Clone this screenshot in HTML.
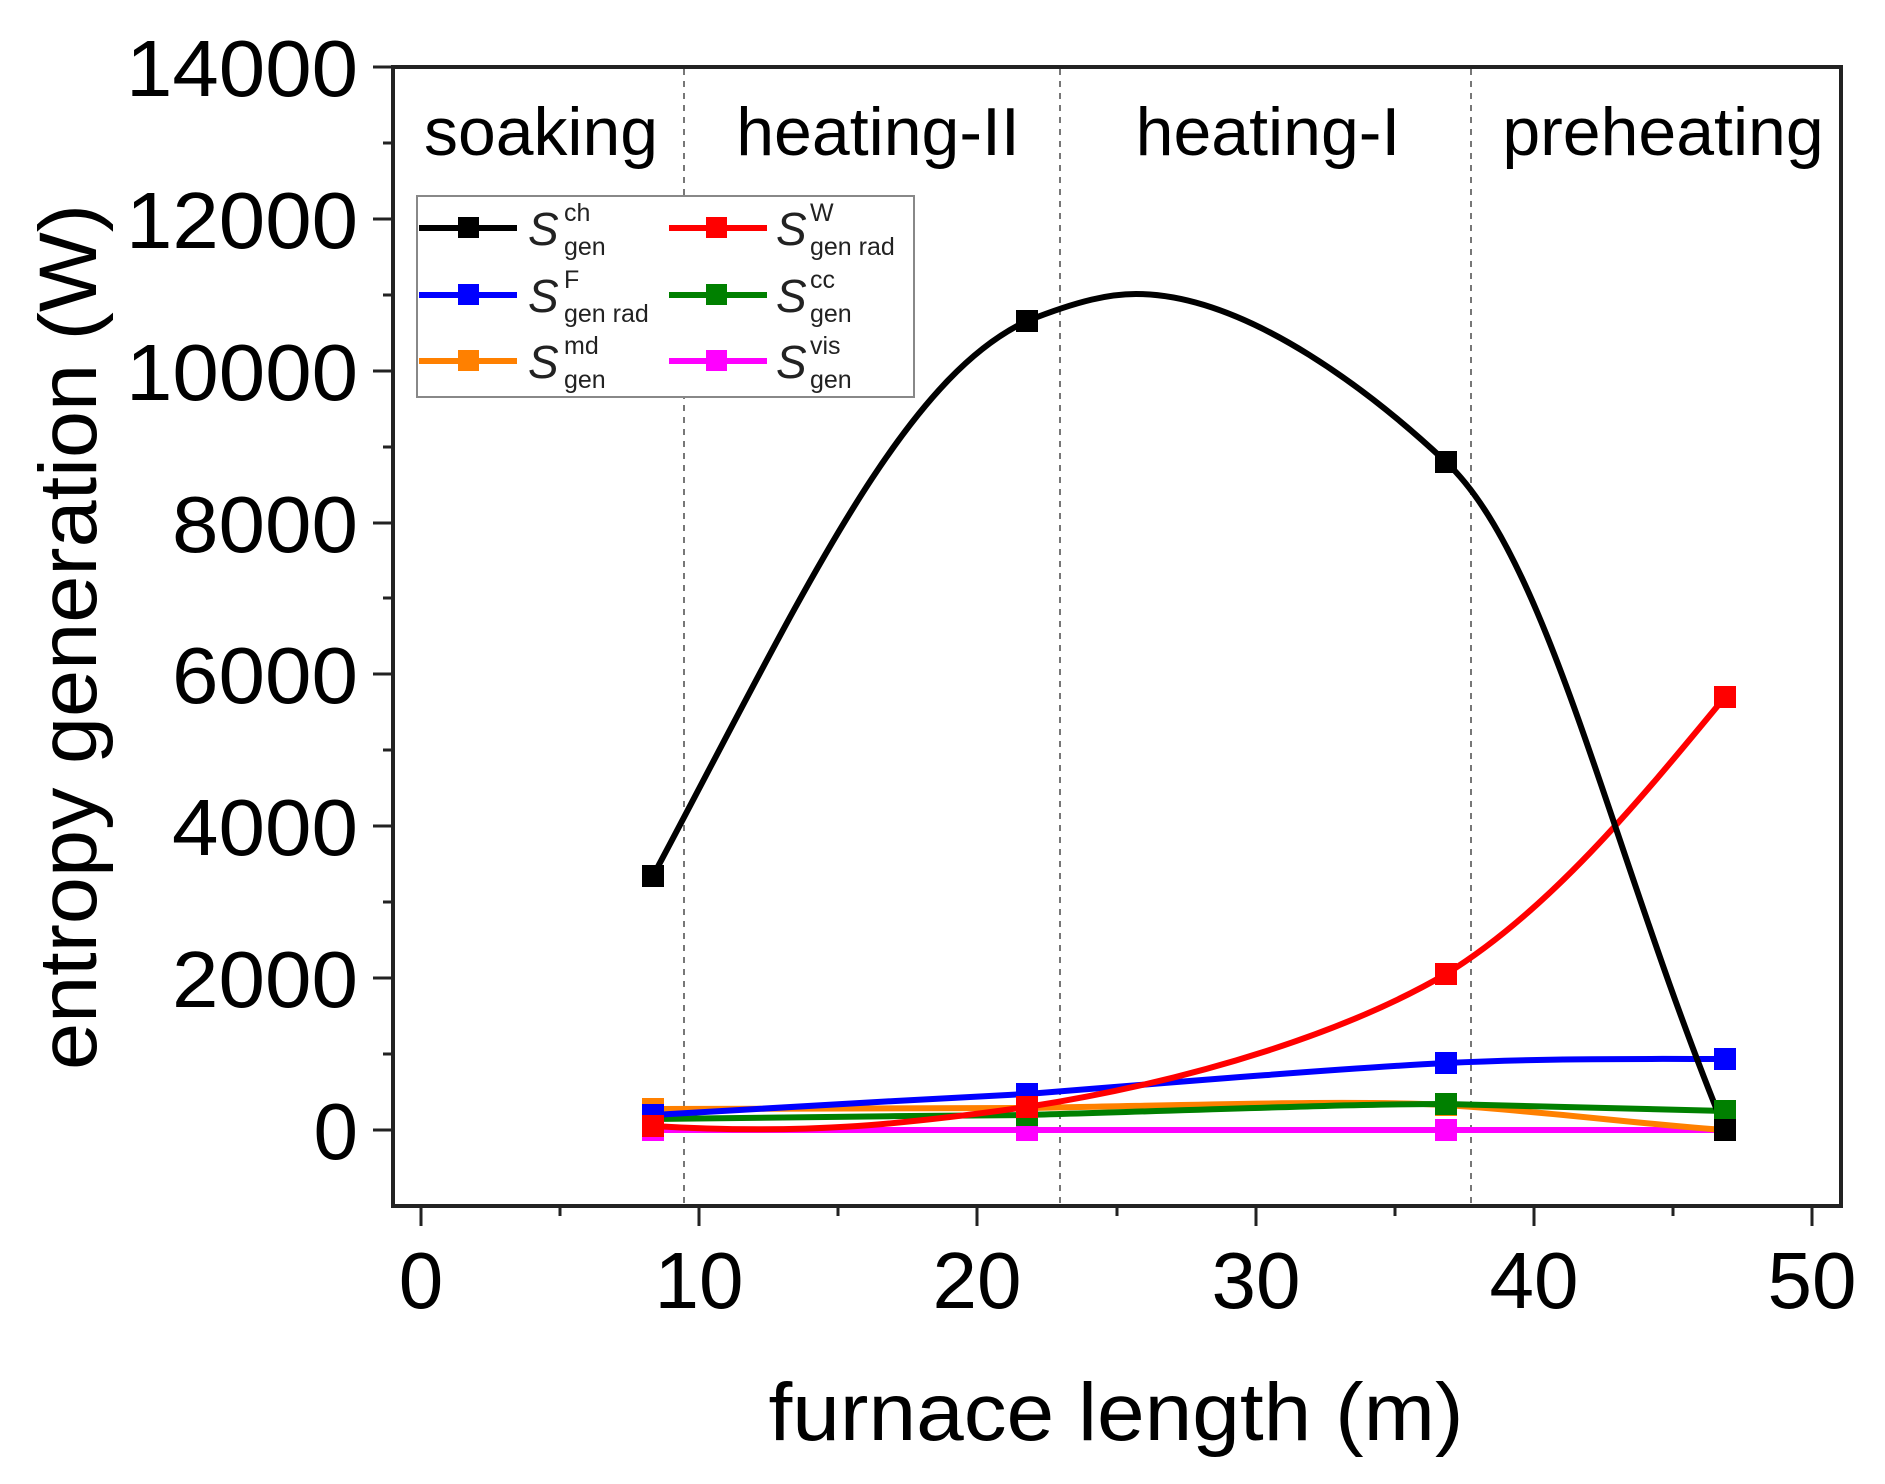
<!DOCTYPE html>
<html><head><meta charset="utf-8"><style>html,body{margin:0;padding:0;background:#fff}svg{display:block}</style></head>
<body>
<svg width="1885" height="1484" viewBox="0 0 1885 1484" xmlns="http://www.w3.org/2000/svg" font-family="Liberation Sans, Arial, sans-serif">
<rect width="1885" height="1484" fill="#fff"/>
<g stroke="#777" stroke-width="2" stroke-dasharray="6,6">
<line x1="684" y1="69" x2="684" y2="1204"/>
<line x1="1060" y1="69" x2="1060" y2="1204"/>
<line x1="1471" y1="69" x2="1471" y2="1204"/>
</g>
<g font-size="68" fill="#000" text-anchor="middle">
<text x="541" y="155" textLength="234" lengthAdjust="spacingAndGlyphs">soaking</text>
<text x="878" y="155">heating-II</text>
<text x="1268" y="155">heating-I</text>
<text x="1663" y="155">preheating</text>
</g>
<g fill="none" stroke-width="6" stroke-linejoin="round">
<path stroke="#ff00ff" d="M653,1130 L1725,1130"/>
<path stroke="#ff8000" d="M653,1109 L1027,1108 C1200,1105 1350,1100 1446,1105 C1550,1112 1650,1125 1725,1130"/>
<path stroke="#008000" d="M653,1119 C800,1117 900,1116 1027,1115 C1200,1110 1350,1104 1446,1104 C1550,1106 1650,1110 1725,1111"/>
<path stroke="#0000ff" d="M653,1115 C800,1107 900,1100 1027,1094 C1200,1080 1350,1068 1446,1063 C1550,1058 1650,1059 1725,1059"/>
<path stroke="#ff0000" d="M653,1126 C800,1135 900,1125 1027,1107 C1200,1080 1350,1030 1446,974 C1550,910 1640,800 1725,697"/>
<path stroke="#000" d="M653,876 C800,600 900,380 1027,321 C1080,300 1110,294 1136,294 C1250,294 1380,400 1446,462 C1550,560 1610,850 1725,1130"/>
</g>
<g>
<g fill="#ff00ff"><rect x="642" y="1119" width="22" height="22"/><rect x="1016" y="1119" width="22" height="22"/><rect x="1435" y="1119" width="22" height="22"/></g>
<g fill="#ff8000"><rect x="642" y="1098" width="22" height="22"/><rect x="1016" y="1097" width="22" height="22"/><rect x="1435" y="1094" width="22" height="22"/></g>
<g fill="#008000"><rect x="642" y="1108" width="22" height="22"/><rect x="1016" y="1104" width="22" height="22"/><rect x="1435" y="1093" width="22" height="22"/><rect x="1714" y="1100" width="22" height="22"/></g>
<g fill="#0000ff"><rect x="642" y="1104" width="22" height="22"/><rect x="1016" y="1083" width="22" height="22"/><rect x="1435" y="1052" width="22" height="22"/><rect x="1714" y="1048" width="22" height="22"/></g>
<g fill="#ff0000"><rect x="642" y="1115" width="22" height="22"/><rect x="1016" y="1096" width="22" height="22"/><rect x="1435" y="963" width="22" height="22"/><rect x="1714" y="686" width="22" height="22"/></g>
<g fill="#000"><rect x="642" y="865" width="22" height="22"/><rect x="1016" y="310" width="22" height="22"/><rect x="1435" y="451" width="22" height="22"/><rect x="1714" y="1119" width="22" height="22"/></g>
</g>
<rect x="393" y="67" width="1448" height="1139" fill="none" stroke="#222" stroke-width="4"/>
<g stroke="#222" stroke-width="3">
<line x1="373" y1="67" x2="393" y2="67"/><line x1="373" y1="219" x2="393" y2="219"/><line x1="373" y1="371" x2="393" y2="371"/><line x1="373" y1="523" x2="393" y2="523"/><line x1="373" y1="674" x2="393" y2="674"/><line x1="373" y1="826" x2="393" y2="826"/><line x1="373" y1="978" x2="393" y2="978"/><line x1="373" y1="1130" x2="393" y2="1130"/>
<line x1="383" y1="143" x2="393" y2="143"/><line x1="383" y1="295" x2="393" y2="295"/><line x1="383" y1="447" x2="393" y2="447"/><line x1="383" y1="598" x2="393" y2="598"/><line x1="383" y1="750" x2="393" y2="750"/><line x1="383" y1="902" x2="393" y2="902"/><line x1="383" y1="1054" x2="393" y2="1054"/>
<line x1="421" y1="1206" x2="421" y2="1226"/><line x1="699" y1="1206" x2="699" y2="1226"/><line x1="977" y1="1206" x2="977" y2="1226"/><line x1="1256" y1="1206" x2="1256" y2="1226"/><line x1="1534" y1="1206" x2="1534" y2="1226"/><line x1="1812" y1="1206" x2="1812" y2="1226"/>
<line x1="560" y1="1206" x2="560" y2="1216"/><line x1="838" y1="1206" x2="838" y2="1216"/><line x1="1117" y1="1206" x2="1117" y2="1216"/><line x1="1395" y1="1206" x2="1395" y2="1216"/><line x1="1673" y1="1206" x2="1673" y2="1216"/>
</g>
<g font-size="80" fill="#000" text-anchor="end">
<text x="358" y="96" textLength="232" lengthAdjust="spacingAndGlyphs">14000</text>
<text x="358" y="248" textLength="232" lengthAdjust="spacingAndGlyphs">12000</text>
<text x="358" y="400" textLength="232" lengthAdjust="spacingAndGlyphs">10000</text>
<text x="358" y="552" textLength="186" lengthAdjust="spacingAndGlyphs">8000</text>
<text x="358" y="703" textLength="186" lengthAdjust="spacingAndGlyphs">6000</text>
<text x="358" y="855" textLength="186" lengthAdjust="spacingAndGlyphs">4000</text>
<text x="358" y="1007" textLength="186" lengthAdjust="spacingAndGlyphs">2000</text>
<text x="358" y="1159">0</text>
</g>
<g font-size="80" fill="#000" text-anchor="middle">
<text x="421" y="1308">0</text><text x="699" y="1308">10</text><text x="977" y="1308">20</text><text x="1256" y="1308">30</text><text x="1534" y="1308">40</text><text x="1812" y="1308">50</text>
</g>
<text x="1116" y="1440" font-size="82" text-anchor="middle" textLength="695" lengthAdjust="spacingAndGlyphs">furnace length (m)</text>
<text transform="translate(96,637) rotate(-90)" font-size="82" text-anchor="middle" textLength="866" lengthAdjust="spacingAndGlyphs">entropy generation (W)</text>
<rect x="417" y="196" width="497" height="201" fill="#fff" stroke="#888" stroke-width="2"/>
<g stroke-width="6">
<line x1="419" y1="228" x2="517" y2="228" stroke="#000"/><rect x="458" y="217" width="21" height="21" fill="#000"/>
<line x1="669" y1="228" x2="767" y2="228" stroke="#f00"/><rect x="706" y="217" width="21" height="21" fill="#f00"/>
<line x1="419" y1="295" x2="517" y2="295" stroke="#00f"/><rect x="458" y="284" width="21" height="21" fill="#00f"/>
<line x1="669" y1="295" x2="767" y2="295" stroke="#008000"/><rect x="706" y="284" width="21" height="21" fill="#008000"/>
<line x1="419" y1="361" x2="517" y2="361" stroke="#ff8000"/><rect x="458" y="350" width="21" height="21" fill="#ff8000"/>
<line x1="669" y1="361" x2="767" y2="361" stroke="#f0f"/><rect x="706" y="350" width="21" height="21" fill="#f0f"/>
</g>
<g fill="#222">
<g font-size="46" font-style="italic"><text x="528" y="245">S</text><text x="776" y="245">S</text><text x="528" y="312">S</text><text x="776" y="312">S</text><text x="528" y="378">S</text><text x="776" y="378">S</text></g>
<g font-size="25">
<text x="564" y="221">ch</text><text x="564" y="255">gen</text>
<text x="810" y="221">W</text><text x="810" y="255">gen rad</text>
<text x="564" y="288">F</text><text x="564" y="322">gen rad</text>
<text x="810" y="288">cc</text><text x="810" y="322">gen</text>
<text x="564" y="354">md</text><text x="564" y="388">gen</text>
<text x="810" y="354">vis</text><text x="810" y="388">gen</text>
</g>
</g>
</svg>
</body></html>
